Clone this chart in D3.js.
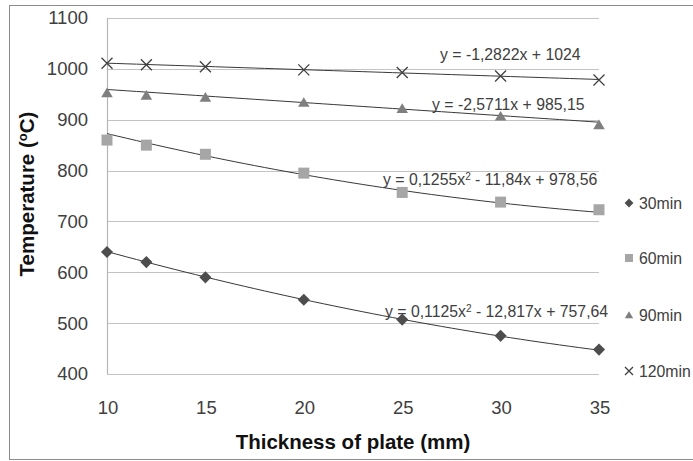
<!DOCTYPE html>
<html>
<head>
<meta charset="utf-8">
<script src="https://cdn.jsdelivr.net/npm/d3@7/dist/d3.min.js"></script>
<style>
  body { margin: 0; background: #fff; }
  svg { font-family: "Liberation Sans", Arial, sans-serif; }
</style>
</head>
<body>
<div id="chart"></div>
<script>
// thickness of plate (mm)
const thickness = [10, 12, 15, 20, 25, 30, 35];

// temperatures
const temp30 = [640, 620, 590, 546, 507, 475, 448];
const temp60 = [860, 850, 832, 795, 757, 738, 723];
const temp90 = [953, 948, 944, 934, 922, 907, 890];
const temp120 = [1011, 1008, 1004, 998, 993, 986, 978];

const seriesNames = ["30min", "60min", "90min", "120min"];

// trendline coefficients [c2, c1, c0] as printed on the chart
const trend30 = [0.1125, -12.817, 757.64];
const trend60 = [0.1255, -11.84, 978.56];
const trend90 = [0, -2.5711, 985.15];
const trend120 = [0, -1.2822, 1024];

const yTicks = [400, 500, 600, 700, 800, 900, 1000, 1100];
const xTicks = [10, 15, 20, 25, 30, 35];

const W = 693, H = 461;
const margin = {top: 18, left: 107};
const width = 492, height = 356;

const svg = d3.select("#chart").append("svg")
    .attr("width", W)
    .attr("height", H);

// outer chart frame
svg.append("rect")
    .attr("x", 9.5).attr("y", 5.5)
    .attr("width", 700).attr("height", 454)
    .attr("fill", "none")
    .attr("stroke", "#8c8c8c");

const g = svg.append("g")
    .attr("transform", `translate(${margin.left},${margin.top})`);

const x = d3.scaleLinear().domain([10, 35]).range([0, width]);
const y = d3.scaleLinear().domain([400, 1100]).range([height, 0]);

// gridlines
g.selectAll(".grid")
    .data(yTicks)
    .enter().append("line")
    .attr("x1", 0).attr("x2", width)
    .attr("y1", d => Math.round(y(d)) + 0.5)
    .attr("y2", d => Math.round(y(d)) + 0.5)
    .attr("stroke", "#c3c3c3")
    .attr("stroke-width", 1.2);

// y axis line
g.append("line")
    .attr("x1", 0.5).attr("x2", 0.5)
    .attr("y1", 0).attr("y2", height)
    .attr("stroke", "#b5b5b5")
    .attr("stroke-width", 1.2);

// tick labels
g.selectAll(".ylab")
    .data(yTicks)
    .enter().append("text")
    .attr("x", -19)
    .attr("y", d => y(d))
    .attr("dy", "0.35em")
    .attr("text-anchor", "end")
    .attr("fill", "#404040")
    .style("font-size", "18.5px")
    .text(d => d);

g.selectAll(".xlab")
    .data(xTicks)
    .enter().append("text")
    .attr("x", d => x(d) + 1)
    .attr("y", height + 40)
    .attr("text-anchor", "middle")
    .attr("fill", "#404040")
    .style("font-size", "18.5px")
    .text(d => d);

// axis titles
svg.append("text")
    .attr("x", 353).attr("y", 449)
    .attr("text-anchor", "middle")
    .attr("fill", "#111")
    .style("font-size", "20.5px")
    .style("font-weight", "bold")
    .text("Thickness of plate (mm)");

const yt = svg.append("text")
    .attr("transform", "translate(34,194) rotate(-90)")
    .attr("text-anchor", "middle")
    .attr("fill", "#111")
    .style("font-size", "20.5px")
    .style("font-weight", "bold");
yt.append("tspan").text("Temperature (");
yt.append("tspan").attr("baseline-shift", "super").style("font-size", "13px").text("o");
yt.append("tspan").text("C)");

// trendlines
const series = [
    {name: seriesNames[0], values: temp30, coef: trend30, color: "#4d4d4d", shape: "diamond"},
    {name: seriesNames[1], values: temp60, coef: trend60, color: "#a6a6a6", shape: "square"},
    {name: seriesNames[2], values: temp90, coef: trend90, color: "#7f7f7f", shape: "triangle"},
    {name: seriesNames[3], values: temp120, coef: trend120, color: "#404040", shape: "cross"}
];

const line = d3.line().x(d => x(d[0])).y(d => y(d[1]));
const xs = d3.range(10, 35.01, 0.5);

series.forEach(s => {
    g.append("path")
        .datum(xs.map(t => [t, s.coef[0] * t * t + s.coef[1] * t + s.coef[2]]))
        .attr("d", line)
        .attr("fill", "none")
        .attr("stroke", "#383838")
        .attr("stroke-width", 1);
});

// marker drawing
function drawMarker(sel, shape, color, size) {
    const r = size / 2;
    let d;
    if (shape === "cross") {
        sel.append("path")
            .attr("d", `M${-r},${-r}L${r},${r}M${-r},${r}L${r},${-r}`)
            .attr("stroke", color)
            .attr("stroke-width", 1.3)
            .attr("fill", "none");
        return;
    }
    if (shape === "diamond") d = `M0,${-r * 1.1}L${r * 1.1},0L0,${r * 1.1}L${-r * 1.1},0Z`;
    if (shape === "square") d = `M${-r},${-r}H${r}V${r}H${-r}Z`;
    if (shape === "triangle") d = `M0,${-r * 0.95}L${r * 1.05},${r * 0.8}L${-r * 1.05},${r * 0.8}Z`;
    sel.append("path").attr("d", d).attr("fill", color);
}

series.forEach(s => {
    thickness.forEach((t, i) => {
        const m = g.append("g")
            .attr("transform", `translate(${x(t)},${y(s.values[i])})`);
        drawMarker(m, s.shape, s.color, 11);
    });
});

// trendline equations
const eqs = [
    {x: 385, y: 317, parts: [["y = 0,1125x"], ["2", true], [" - 12,817x + 757,64"]]},
    {x: 383, y: 185, parts: [["y = 0,1255x"], ["2", true], [" - 11,84x + 978,56"]]},
    {x: 432, y: 110, parts: [["y = -2,5711x + 985,15"]]},
    {x: 440, y: 60, parts: [["y = -1,2822x + 1024"]]}
];
eqs.forEach(e => {
    const t = svg.append("text")
        .attr("x", e.x).attr("y", e.y)
        .attr("fill", "#404040")
        .style("font-size", "15.8px");
    e.parts.forEach(p => {
        const ts = t.append("tspan").text(p[0]);
        if (p[1]) ts.attr("baseline-shift", "super").style("font-size", "10px");
    });
});

// legend
const legY = [203, 258, 315, 371];
series.forEach((s, i) => {
    const lg = svg.append("g").attr("transform", `translate(629,${legY[i]})`);
    drawMarker(lg, s.shape, s.color, 8);
    lg.append("text")
        .attr("x", 10).attr("dy", "0.35em")
        .attr("fill", "#404040")
        .style("font-size", "15.8px")
        .text(s.name);
});
</script>
</body>
</html>
